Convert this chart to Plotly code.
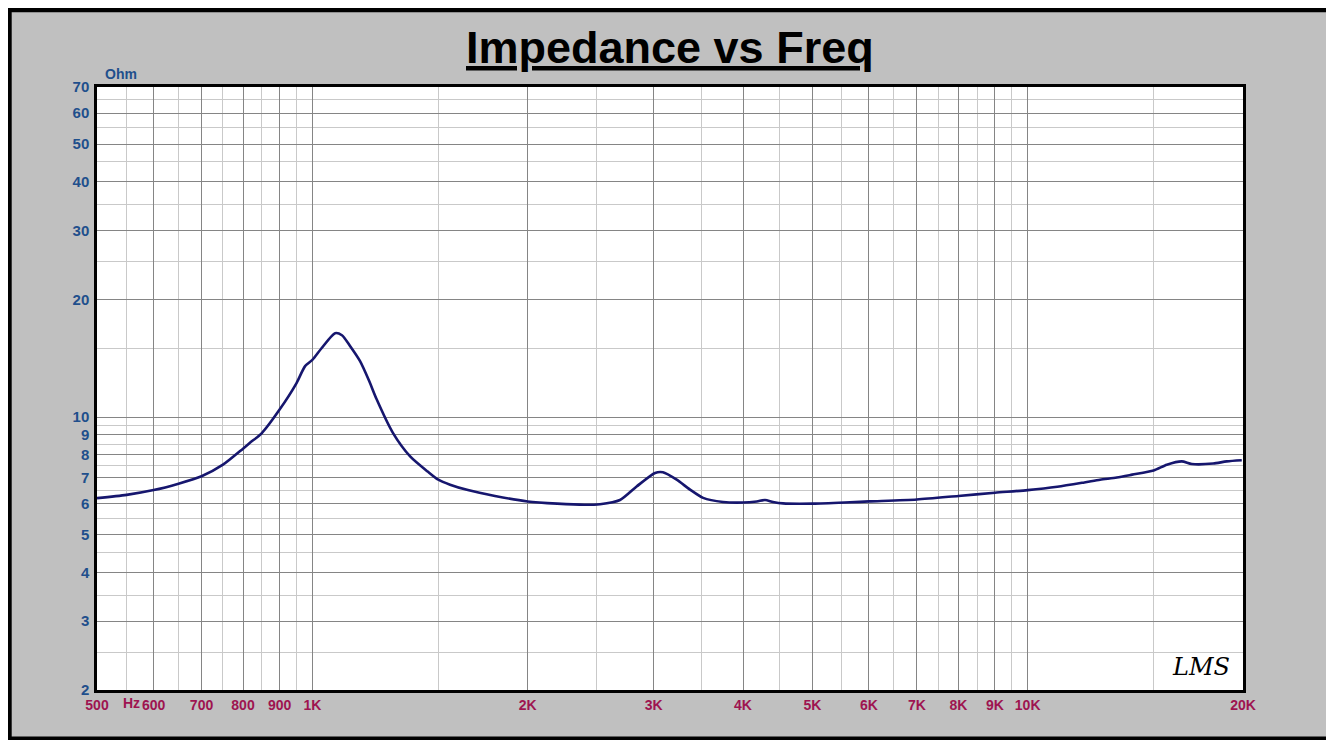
import plotly.graph_objects as go
import math

# ---- data ----
freq_hz = [500, 550, 600, 650, 700, 750, 800, 818, 850, 900, 950, 977, 1000, 1030,
           1076, 1100, 1129, 1166, 1200, 1230, 1296, 1370, 1450, 1500, 1558, 1650,
           1800, 2000, 2200, 2400, 2524, 2692, 2840, 3014, 3091, 3231, 3373, 3518,
           3751, 4000, 4181, 4294, 4406, 4549, 5008, 5645, 6000, 7000, 8000, 9000,
           10000, 11000, 12000, 12627, 13325, 14000, 15000, 15651, 16420, 16960,
           18170, 18980, 19920]
impedance_ohm = [6.2, 6.32, 6.5, 6.75, 7.05, 7.55, 8.3, 8.59, 9.1, 10.45, 12.2, 13.5,
                 14.0, 15.0, 16.4, 16.2, 15.2, 13.9, 12.4, 11.1, 9.11, 7.93, 7.25, 6.91,
                 6.71, 6.5, 6.28, 6.08, 6.0, 5.96, 5.98, 6.13, 6.64, 7.19, 7.22, 6.91,
                 6.52, 6.21, 6.06, 6.04, 6.08, 6.13, 6.06, 6.01, 6.0, 6.05, 6.08, 6.15,
                 6.28, 6.4, 6.5, 6.63, 6.8, 6.91, 7.0, 7.12, 7.3, 7.55, 7.7, 7.58, 7.6,
                 7.7, 7.75]

x_major_vals = [500, 600, 700, 800, 900, 1000, 2000, 3000, 4000, 5000, 6000, 7000,
                8000, 9000, 10000, 20000]
x_major_text = ["500", "600", "700", "800", "900", "1K", "2K", "3K", "4K", "5K", "6K",
                "7K", "8K", "9K", "10K", "20K"]
x_minor_vals = [550, 650, 750, 850, 950, 1500, 2500, 3500, 4500, 5500, 6500, 7500,
                8500, 9500, 15000]

y_major_vals = [2, 3, 4, 5, 6, 7, 8, 9, 10, 20, 30, 40, 50, 60, 70]
y_major_text = ["2", "3", "4", "5", "6", "7", "8", "9", "10", "20", "30", "40", "50",
                "60", "70"]
y_minor_vals = [2.5, 3.5, 4.5, 5.5, 6.5, 7.5, 8.5, 9.5, 15, 25, 35, 45, 55, 65]

# ---- layout geometry (page has an 8px body margin) ----
OFF = 8
W, H = 1326, 732
L, R, T, B = 89, 91, 79, 50
PW, PH = W - L - R, H - T - B


def px(page_x):
    return (page_x - OFF - L) / PW


def py(page_y):
    return (H - B - (page_y - OFF)) / PH


fig = go.Figure()
fig.add_trace(go.Scatter(
    x=freq_hz, y=impedance_ohm, mode="lines",
    line=dict(color="#16166e", width=2.6, shape="spline", smoothing=0.7),
    hoverinfo="x+y", showlegend=False,
))

tick_font_x = dict(family="Liberation Sans, Arial, sans-serif", size=14, color="#9e1450")
tick_font_y = dict(family="Liberation Sans, Arial, sans-serif", size=15, color="#1f4f8c")

fig.update_xaxes(
    type="log", range=[math.log10(500), math.log10(20000)],
    tickmode="array", tickvals=x_major_vals,
    ticktext=["<b>%s</b>" % t for t in x_major_text],
    tickfont=tick_font_x, ticks="",
    showgrid=True, gridcolor="#858585", gridwidth=1,
    minor=dict(tickmode="array", tickvals=x_minor_vals, showgrid=True,
               gridcolor="#c9c9c9", gridwidth=1, ticks=""),
    showline=True, linecolor="black", linewidth=2.5, mirror=True,
    zeroline=False, fixedrange=True,
)
fig.update_yaxes(
    type="log", range=[math.log10(2), math.log10(70)],
    tickmode="array", tickvals=y_major_vals,
    ticktext=["<b>%s</b>" % t for t in y_major_text],
    tickfont=tick_font_y, ticks="outside", ticklen=2, tickcolor="rgba(0,0,0,0)",
    showgrid=True, gridcolor="#858585", gridwidth=1,
    minor=dict(tickmode="array", tickvals=y_minor_vals, showgrid=True,
               gridcolor="#c9c9c9", gridwidth=1, ticks=""),
    showline=True, linecolor="black", linewidth=2.5, mirror=True,
    zeroline=False, fixedrange=True,
)

shapes = [
    # grey panel with thick black frame
    dict(type="rect", xref="paper", yref="paper", layer="below",
         x0=px(OFF + 0.2), x1=px(OFF + 1323.5), y0=py(OFF + 732), y1=py(OFF + 0.8),
         fillcolor="#c0c0c0", line=dict(color="black", width=7)),
    # white plotting area
    dict(type="rect", xref="paper", yref="paper", layer="below",
         x0=0, x1=1, y0=0, y1=1, fillcolor="white", line=dict(width=0)),
]

annotations = [
    dict(text="<b><u>Impedance vs Freq</u></b>", xref="paper", yref="paper",
         x=0.5, y=py(47), xanchor="center", yanchor="middle", showarrow=False,
         font=dict(family="Liberation Sans, Arial, sans-serif", size=45, color="black")),
    dict(text="<b>Ohm</b>", xref="paper", yref="paper", x=px(103), y=py(74),
         xanchor="left", yanchor="middle", showarrow=False,
         font=dict(family="Liberation Sans, Arial, sans-serif", size=14, color="#1f4f8c")),
    dict(text="<b>Hz</b>", xref="paper", yref="paper", x=px(131), y=py(703),
         xanchor="center", yanchor="middle", showarrow=False,
         font=tick_font_x),
    dict(text="<i>LMS</i>", xref="paper", yref="paper", x=px(1201), y=py(667),
         xanchor="center", yanchor="middle", showarrow=False,
         font=dict(family="DejaVu Serif, serif", size=24, color="black")),
]

fig.update_layout(
    width=W, height=H,
    margin=dict(l=L, r=R, t=T, b=B, pad=0),
    paper_bgcolor="white", plot_bgcolor="rgba(0,0,0,0)",
    shapes=shapes, annotations=annotations,
    showlegend=False,
)

fig.write_html("out.html")
